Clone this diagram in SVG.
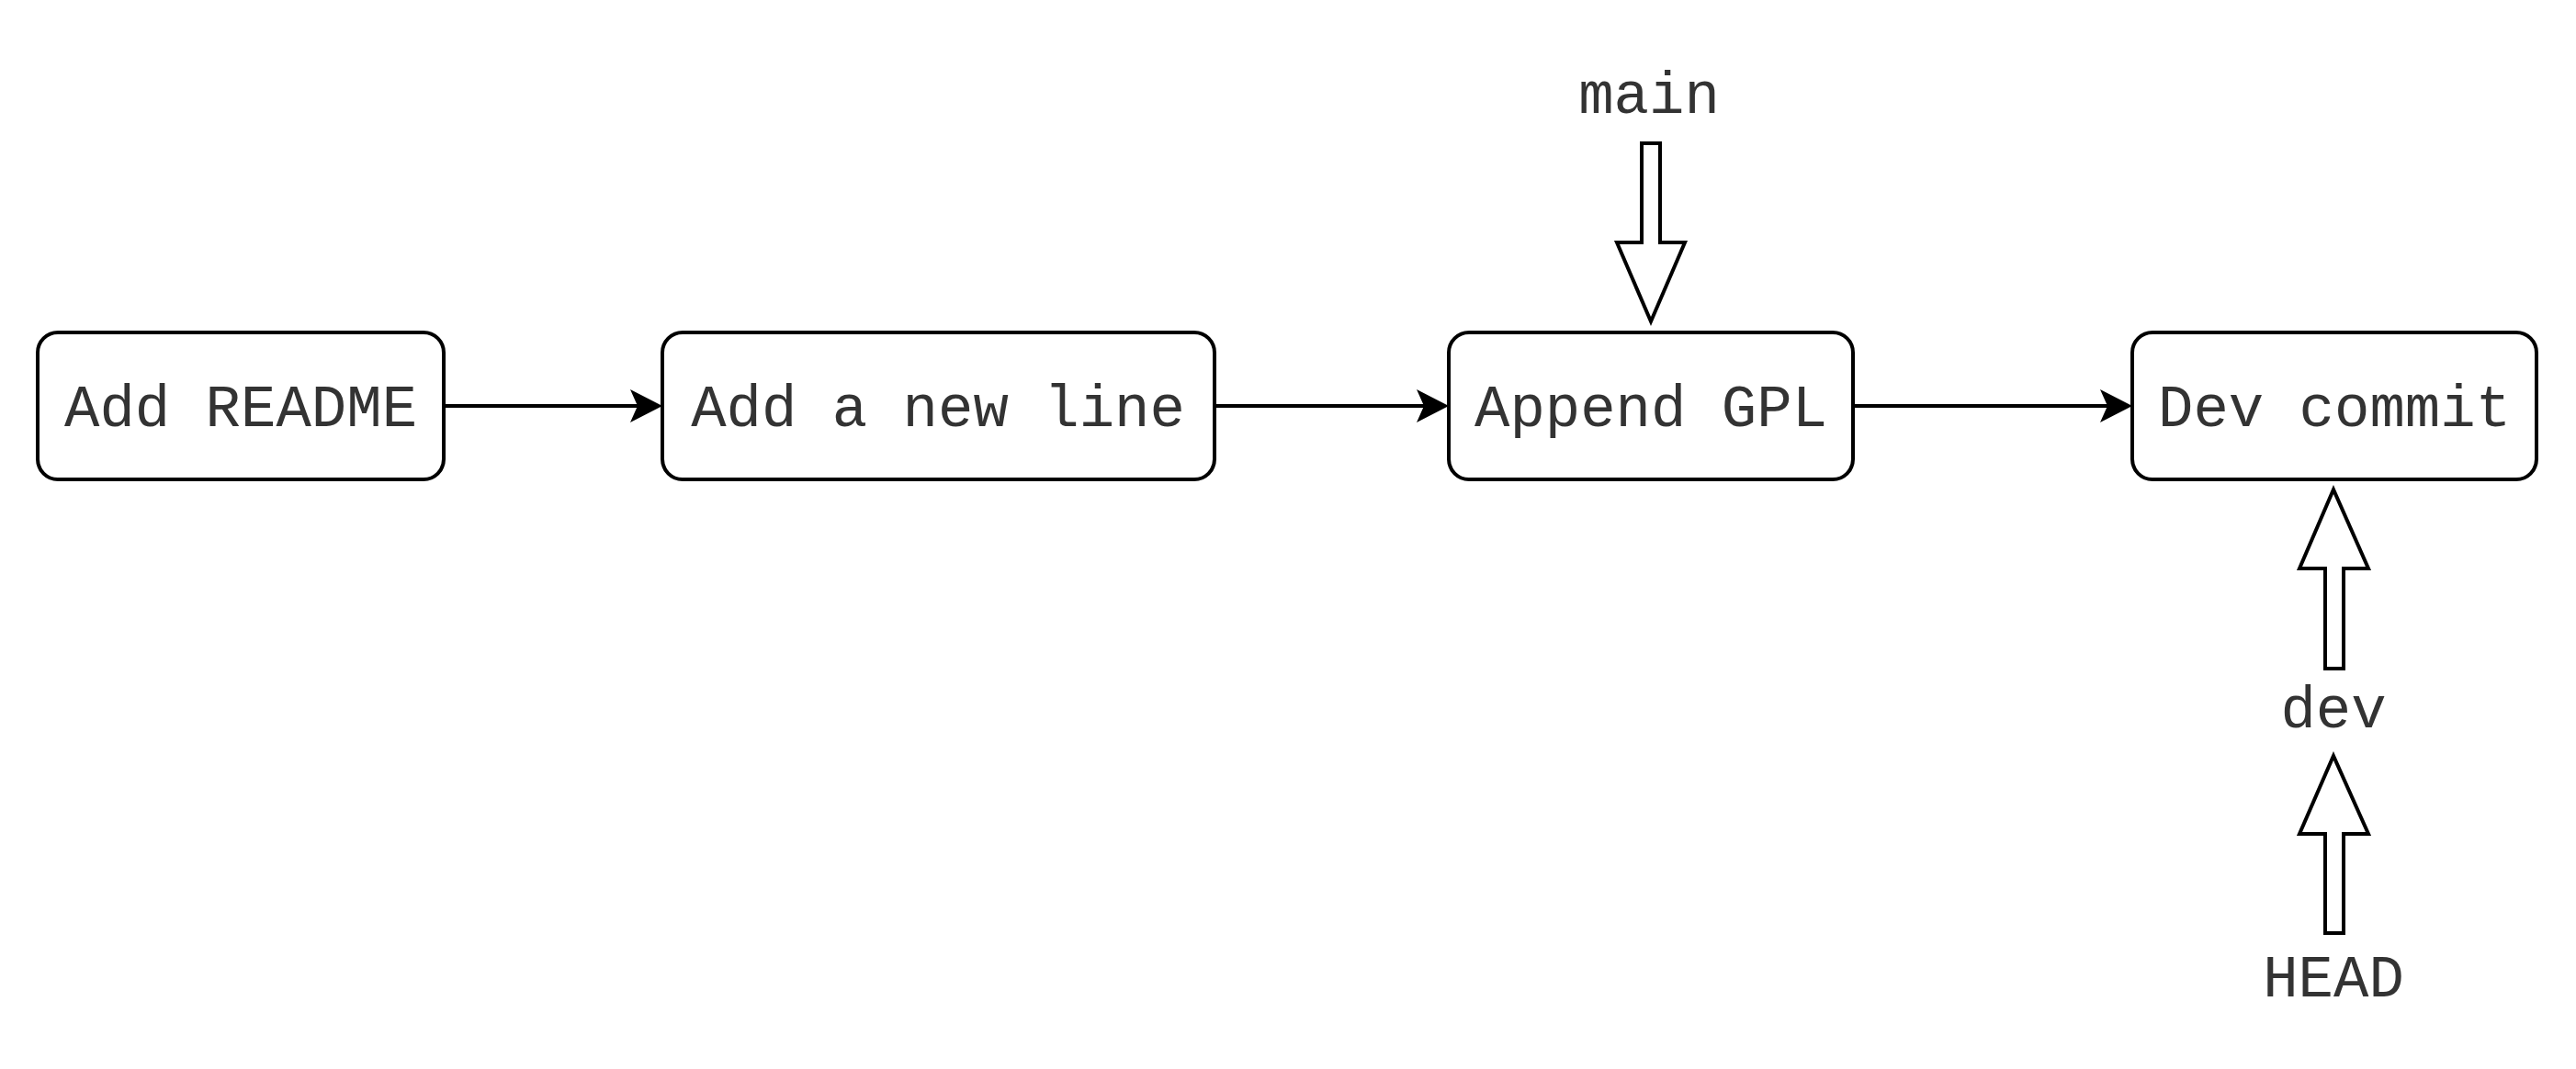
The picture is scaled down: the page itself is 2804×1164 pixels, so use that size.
<svg xmlns="http://www.w3.org/2000/svg" width="2804" height="1164" viewBox="0 0 2804 1164">
<style>
.box{fill:#ffffff;stroke:#000000;stroke-width:4}
.lbl{font-family:"Liberation Mono","Courier New",monospace;font-size:64px;fill:#333333;text-anchor:middle}
.edge{fill:none;stroke:#000000;stroke-width:4}
.head{fill:#000000;stroke:none}
.ptr{fill:#ffffff;stroke:#000000;stroke-width:4;stroke-linejoin:miter}
</style>
<rect width="2804" height="1164" fill="#ffffff"/>
<g id="connectors">
<line class="edge" x1="483" y1="442" x2="714" y2="442"/>
<path class="head" d="M721,442 L686,424 L694,442 L686,460 Z"/>
<line class="edge" x1="1322" y1="442" x2="1570" y2="442"/>
<path class="head" d="M1577,442 L1542,424 L1550,442 L1542,460 Z"/>
<line class="edge" x1="2017" y1="442" x2="2314" y2="442"/>
<path class="head" d="M2321,442 L2286,424 L2294,442 L2286,460 Z"/>
</g>
<g id="node-add-readme">
<rect class="box" x="41" y="362" width="442" height="160" rx="22" ry="22"/>
<text class="lbl" x="262" y="464">Add README</text>
</g>
<g id="node-add-new-line">
<rect class="box" x="721" y="362" width="601" height="160" rx="22" ry="22"/>
<text class="lbl" x="1021" y="464">Add a new line</text>
</g>
<g id="node-append-gpl">
<rect class="box" x="1577" y="362" width="440" height="160" rx="22" ry="22"/>
<text class="lbl" x="1797" y="464">Append GPL</text>
</g>
<g id="node-dev-commit">
<rect class="box" x="2321" y="362" width="440" height="160" rx="22" ry="22"/>
<text class="lbl" x="2541" y="464">Dev commit</text>
</g>
<g id="node-main">
<text class="lbl" x="1795" y="123">main</text>
<path class="ptr" d="M1787,156 L1807,156 L1807,264 L1834,264 L1797,350 L1760,264 L1787,264 Z"/>
</g>
<g id="node-dev">
<path class="ptr" d="M2540,533 L2578,619 L2551,619 L2551,728 L2531,728 L2531,619 L2503,619 Z"/>
<text class="lbl" x="2540" y="792">dev</text>
</g>
<g id="node-head">
<path class="ptr" d="M2540,823 L2578,908 L2551,908 L2551,1016 L2531,1016 L2531,908 L2503,908 Z"/>
<text class="lbl" x="2540" y="1085">HEAD</text>
</g>
</svg>
